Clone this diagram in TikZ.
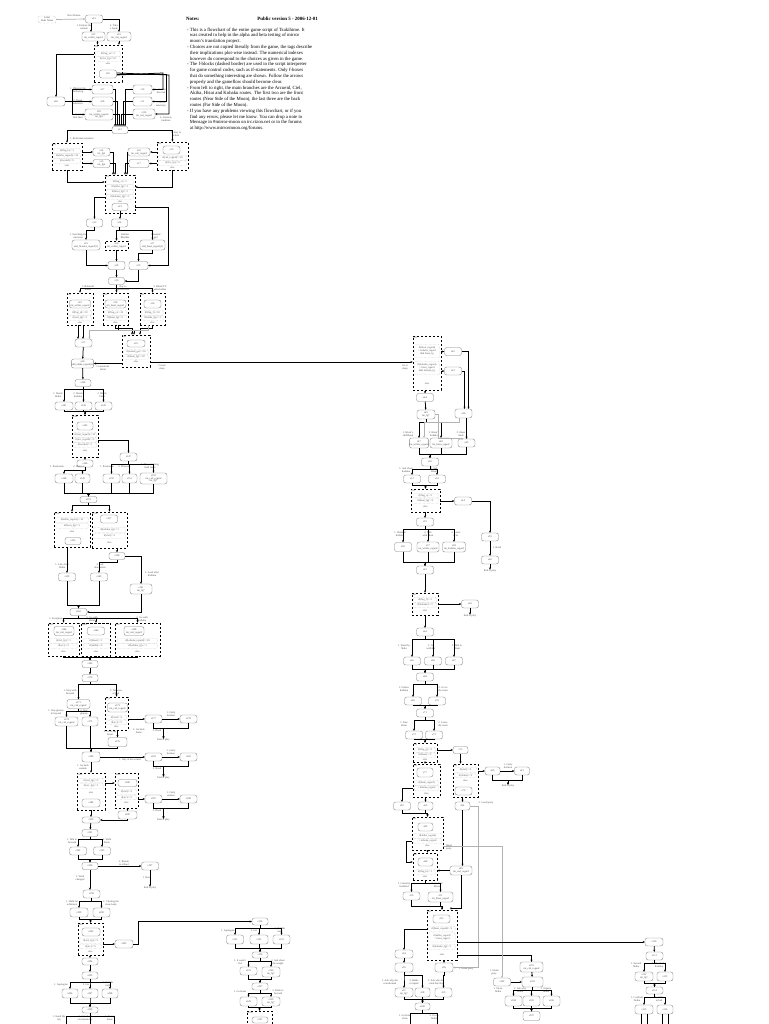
\documentclass[tikz,border=0pt]{standalone}
\usepackage{fontspec}
\setmainfont{Liberation Serif}
\usetikzlibrary{arrows.meta,calc}
\newcommand\fs{\fontsize{2.6}{2.9}\selectfont}
\tikzset{
 sn/.style={draw=black!50, line width=0.35pt, rounded corners=2.3pt, minimum width=17pt, minimum height=8pt, inner sep=0.3pt, font=\fs, text=black!70, align=center, fill=white},
 db/.style={draw=black, line width=0.75pt, dash pattern=on 2.4pt off 1.6pt},
 rw/.style={draw=black!40, line width=0.3pt, densely dotted, rounded corners=1pt, inner sep=0.2pt, font=\fs, text=black!65, align=center, minimum height=4.5pt},
 hd/.style={font=\fs, inner sep=0.6pt, text=black!70},
 lb/.style={font=\fs, inner sep=0pt, align=center, text=black!70},
 ed/.style={draw=black, line width=0.75pt, -{Stealth[length=2.2pt,width=2pt]}},
 ge/.style={draw=black!30, line width=0.7pt, -{Stealth[length=2.2pt,width=2pt]}},
}
\newcommand\Nd[5][]{\node[sn,#1] (#2) at (#3,#4) {#5};}
\newcommand\Lab[5][]{\node[lb,#1] (#2) at (#3,#4) {#5};}
\newcommand\Fb[6]{\node[db, minimum width=#4pt, minimum height=#5pt] (#1) at (#2,#3) {}; \node[hd, anchor=north west] (#1h) at (#1.north west) {#6};}
\newcommand\Rw[6][]{\node[rw, minimum width=#5pt, #1] (#2) at (#3,#4) {#6};}
\newcommand\Dn[3][]{\draw[ed,#1] (#2.south) -- ++(0,3) -| (#3.north);}
\newcommand\Up[3][]{\draw[ed,#1] (#2.south) |- ($(#3.north)+(0,-3)$) -- (#3.north);}
\begin{document}
\begin{tikzpicture}[x=1pt,y=-1pt]
\useasboundingbox[fill=white] (0,0) rectangle (768,1024);

% ---------------- notes
\node[anchor=west, inner sep=0, font=\fontsize{4.9}{5.8}\selectfont\bfseries] (ntitle) at (186,19) {Notes:};
\node[anchor=east, inner sep=0, font=\fontsize{4.9}{5.8}\selectfont\bfseries] (nver) at (318,19) {Public version 5 - 2006-12-01};
\node[anchor=north west, inner sep=0, align=left, font=\fontsize{4.75}{5.8}\selectfont] (notes) at (187,27.5) {%
- This is a flowchart of the entire game script of Tsukihime. It\\
\hphantom{- }was created to help in the alpha and beta testing of mirror\\
\hphantom{- }moon's translation project.\\
- Choices are not copied literally from the game, the tags describe\\
\hphantom{- }their implications plot-wise instead. The numerical indexes\\
\hphantom{- }however do correspond to the choices as given in the game.\\
- The f-blocks (dashed border) are used in the script interpreter\\
\hphantom{- }for game control codes, such as if-statements. Only f-boxes\\
\hphantom{- }that do something interesting are shown. Follow the arrows\\
\hphantom{- }properly and the gameflow should become clear.\\
- From left to right, the main branches are the Arcueid, Ciel,\\
\hphantom{- }Akiha, Hisui and Kohaku routes. The first two are the front\\
\hphantom{- }routes (Near Side of the Moon), the last three are the back\\
\hphantom{- }routes (Far Side of the Moon).\\
- If you have any problems viewing this flowchart, or if you\\
\hphantom{- }find any errors, please let me know. You can drop a note to\\
\hphantom{- }Mensage in \#mirror-moon on irc.rizon.net or in the forums\\
\hphantom{- }at http://www.mirrormoon.org/forums.};

% ---------------- top
\Nd[draw=black!40, densely dotted, minimum width=18pt, minimum height=7pt]{leg}{47}{19.5}{Label\\Node Name}
\Lab{lnext}{74}{16}{Next Station}
\Nd{s01}{94}{19}{s01}
\draw[ge] (leg.east) -- (s01.west);
\Lab{l02}{84}{27}{1. Explore the\\outside}
\Lab{l03}{114}{27}{2. Take\\a break}
\Nd[minimum width=23pt, minimum height=9pt]{s02}{93.5}{36.5}{s02\\tm\_wilder\_regard}
\Nd[minimum width=24pt, minimum height=9pt]{s03}{119}{36.5}{s03\\tm\_ciel\_regard}
\draw[ed] ([xshift=-3pt]s01.south) -- ([xshift=-3pt]s01.south |- s02.north);
\draw[ed] (s01.east) -| (s03.north);
\Fb{d04}{108}{63.5}{28}{37}{s04}
\Rw{r04a}{108}{54}{25}{if(flag\_a)>=1}
\Rw{r04b}{108}{59}{25}{if(ciel\_fg)>=10}
\Lab{r04c}{108}{64}{else}
\Nd{s05}{108}{74}{s05}
\draw[ed] ([xshift=4pt]s02.south) -- ([xshift=4pt]s02.south |- d04.north);
\draw[ed] (s03.south) -- (s03.south |- d04.north);
\Nd[minimum width=18pt, minimum height=9pt]{s06}{56}{101.5}{s06}
\draw[ed] (d04.west |- r04a) -| (s06.north);
\Nd[minimum width=21pt, minimum height=9pt]{s07}{102.5}{89.5}{s07}
\Nd[minimum width=21pt, minimum height=9pt]{s08}{102.5}{101.5}{s08}
\Nd[minimum width=28pt, minimum height=11pt]{s09}{99}{114.5}{s09\\tm\_wilder\_regard\\tm\_fg4}
\Lab{l07}{78}{90}{1. Rhetoric the\\following}
\Lab{l08}{78}{102.5}{2. Break\\salvation}
\Lab{l09}{78}{116}{3. Comfort\\him then}
\draw[ed] (s06.east) -- ++(7,0) |- (s07.west);
\draw[ed] (s06.east) -- (s08.west);
\draw[ed] (s06.east) -- ++(7,0) |- (s09.west);
\Nd[minimum width=19pt, minimum height=9pt]{s10}{142.5}{89.5}{s10}
\Nd[minimum width=19pt, minimum height=9pt]{s11}{142.5}{101.5}{s11}
\Nd[minimum width=22pt, minimum height=10pt]{s11b}{144}{114}{s11b\\tm\_ciel\_regard}
\Lab{l10}{161}{91}{4. Comfort\\the road}
\Lab{l11}{161}{104}{5. Go to\\sanctuary}
\Lab{l11b}{166}{119}{6. Listen to\\tradition}
\draw[ed] ([yshift=-1pt]s05.east) -- (163,73) |- (s10.east);
\draw[ed] (s05.east) -- (166,74) |- (s11.east);
\draw[ed] ([yshift=1pt]s05.east) -- (169,75) |- (s11b.east);
\Nd[minimum width=16pt, minimum height=7pt]{s12}{120}{130}{s12}
\draw[ed] (s07.east) -| ([xshift=-5pt]s12.north);
\draw[ed] (s08.east) -| ([xshift=-3pt]s12.north);
\draw[ed] (s09.east) -| ([xshift=-1pt]s12.north);
\draw[ed] (s10.west) -| ([xshift=5pt]s12.north);
\draw[ed] (s11.west) -| ([xshift=3pt]s12.north);
\draw[ed] (s11b.west) -| ([xshift=1pt]s12.north);

% ---------------- section 2
\Lab{l13}{82}{139}{1. Reluctant resistance}
\Lab{l18}{176}{134}{2. Stay in\\school}
\Fb{d13}{67}{156.5}{30}{27}{s13}
\Rw{r13a}{67}{151}{27}{if(flag\_b)>=1}
\Rw{r13b}{67}{156}{27}{if(akiha\_regard)>=10}
\Rw{r13c}{67}{161}{27}{if(sealed)>=5}
\Lab{r13d}{67}{166}{else}
\Nd{s14}{101.5}{152}{s14\\tm\_fg5}
\Nd{s15}{101.5}{163.5}{s15\\tm\_fg6}
\Nd[minimum width=22pt]{s16}{139}{152}{s16\\tm\_ciel\_regard}
\Nd[minimum width=20pt]{s17}{139}{163.5}{s17}
\Fb{d18}{172.5}{156}{31}{28}{s18}
\Nd{s19}{171.5}{150}{s19}
\Rw{r18a}{172.5}{158}{28}{if(ciel\_regard)>=10}
\Rw{r18b}{172.5}{163}{28}{if(ciel\_fg)>=5}
\Lab{r18c}{172.5}{167.5}{else}
\draw[ed] (s12.west) -| (d13.north);
\draw[ed] (s12.east) -| (d18.north);
\draw[ed] (d13.east |- s14) -- (s14.west);
\draw[ed] (d13.east |- s15) -- (s15.west);
\draw[ed] (d18.west |- s16) -- (s16.east);
\draw[ed] (d18.west |- s17) -- (s17.east);
\Fb{d21}{120}{194}{30}{38}{s21}
\Rw{r21a}{120}{182}{27}{if(flag\_c)>=1}
\Rw{r21b}{120}{187}{27}{if(akiha\_fg)>=1}
\Rw{r21c}{120}{192}{27}{if(hisui\_fg)>=1}
\Rw{r21d}{120}{197}{27}{if(kohaku\_fg)>=1}
\Lab{r21e}{120}{201.5}{else}
\Nd[minimum width=16pt, minimum height=7pt]{s22}{120}{207}{s22}
\draw[ed] (s14.east) -| ([xshift=-7pt]d21.north);
\draw[ed] (s15.east) -| ([xshift=-5pt]d21.north);
\draw[ed] (s16.west) -| ([xshift=7pt]d21.north);
\draw[ed] (s17.west) -| ([xshift=5pt]d21.north);
\draw[ed] (d13.south) |- (d21.west |- r21a);
\draw[ed] (d18.south) |- (d21.east |- r21b);
\Nd[minimum width=16pt]{s23}{94.5}{223}{s23}
\Nd[minimum width=16pt]{s24}{119.5}{223}{s24}
\draw[ed] (d21.west |- r21d) -| (s23.north);
\draw[ed] (s22.south) -- (s22.south |- s24.north);
\Lab{l25}{78}{236}{1. Searching for\\salvation}
\Lab{l26}{125}{236}{Submit\\Rhythm}
\Lab{l27}{156}{236}{Haunted\\girl}
\Nd[minimum width=28pt, minimum height=10pt]{s25}{86}{245}{s25\\add\_flonaka\_regard(1)}
\node[db, line width=0.6pt, minimum width=23pt, minimum height=9pt, font=\fs, align=center, text=black!70, inner sep=0.2pt] (d26) at (116.5,245.5) {s26\\tm\_wilder\_regard};
\Nd[minimum width=25pt, minimum height=10pt]{s27}{152.5}{245}{s27\\add\_hisui\_regard(1)}
\Dn{s23}{s25}
\Dn{s24}{d26}
\Dn{s24}{s27}
\Nd{s28}{116.5}{265.5}{s28}
\Nd[minimum width=19pt]{s29}{138.5}{265.5}{s29}
\draw[ed] (s25.south) |- (s28.west);
\draw[ed] (d26.south) -- (d26.south |- s28.north);
\Dn{s27}{s29}
\draw[ed] (d21.east |- s22) -- (168,207) |- (s29.east);
\Nd[minimum width=16pt, minimum height=7pt]{s30}{116.5}{281}{s30}
\draw[ed] (s28) -- (s30);
\draw[ed] (s29.south) |- (s30.east);

% ---------------- section 3
\Lab{l31}{88}{288}{1. Babaschi\\ahder}
\Lab{l33}{123}{288}{Ray to\\unconscious}
\Lab{l35}{160}{288}{3. Blood TV\\unlockables}
\Fb{d31}{80}{309}{26}{32}{s31}
\Nd[minimum width=21pt]{s32}{80}{304}{s32\\tm\_wilder\_regard}
\Rw{r31a}{80}{313}{23}{if(flag\_d)>=10}
\Rw{r31b}{80}{318}{23}{if(ciel\_fg)>=1}
\Lab{r31c}{80}{322.5}{else}
\Fb{d33}{115.5}{309}{25}{32}{s33}
\Nd[minimum width=21pt]{s34}{115.5}{304}{s34\\tm\_hisui\_regard}
\Rw{r33a}{115.5}{313}{22}{if(flag\_e)>=10}
\Rw{r33b}{115.5}{318}{22}{if(hisui\_fg)>=1}
\Lab{r33c}{115.5}{322.5}{else}
\Fb{d35}{152.5}{309}{25}{32}{s35}
\Nd{s36}{152.5}{304}{s36}
\Rw{r35a}{152.5}{313}{22}{if(flag\_f)>=10}
\Rw{r35b}{152.5}{318}{22}{if(akiha\_fg)>=1}
\Lab{r35c}{152.5}{322.5}{else}
\draw[ed] (s30.south) -- ++(0,4) -| (d31.north);
\draw[ed] (s30.south) -- (s30.south |- d33.north);
\draw[ed] (s30.south) -- ++(0,4) -| (d35.north);
\Nd{s37}{83.5}{343}{s37}
\Fb{d38}{136}{351}{28}{32}{s38}
\Nd[minimum width=18pt, minimum height=7pt]{s39}{136}{343.5}{s39}
\Rw{r38a}{136}{352}{25}{if(sealed\_ge)>=18}
\Rw{r38b}{136}{357}{25}{if(hisui\_fg)>=18}
\Lab{r38c}{136}{362}{else}
\draw[ed] ([xshift=-2pt]d31.south) -- ([xshift=-2pt]d31.south |- s37.north);
\draw[ed] ([xshift=3pt]d31.south) -- ([xshift=3pt]d31.south |- s37.north);
\draw[ed] (d33.south) -- ++(0,3) -| ([xshift=-4pt]d38.north);
\draw[ed] ([xshift=3pt]d33.south) -- ++(0,5) -| ([xshift=-2pt]d38.north);
\draw[ed] (d35.south) -- ++(0,3) -| ([xshift=4pt]d38.north);
\draw[ge] ([xshift=-4pt]d35.south) -- ++(0,5) -| ([xshift=6pt]s37.north);
\Nd[minimum width=21pt, minimum height=9pt]{s40}{82.5}{363.5}{s40\\add\_akiha\_regard(1)}
\draw[ed] (s37) -- (s40);
\draw[ed] (d38.west |- s40) -- (s40.east);
\Lab{l40}{103}{368}{Concentrate\\detail}
\Lab{l41}{162}{367}{Crowd\\sleep}
\Lab{l41b}{405}{367}{Go to\\sleep}

% ---------------- right column
\Fb{d41}{427}{363}{28}{54}{s41}
\Rw[minimum height=13pt]{r41a}{427}{351}{25}{if(hisui\_regard)\\> kohaku\_regard\\\&\& hisui\_fg}
\Rw[minimum height=13pt]{r41b}{427}{368}{25}{if(kohaku\_regard)\\> hisui\_regard\\\&\& kohaku\_fg}
\Lab{r41c}{427}{384}{else}
\draw[ed] (d38.east |- r38c) -- (d41.west |- r38c);
\Nd{s42}{453}{351.5}{s42}
\Nd{s43}{453}{371}{s43}
\draw[ed] (d41.east |- s42) -- (s42.west);
\draw[ed] (d41.east |- s43) -- (s43.west);
\Nd{s44}{425}{397.5}{s44}
\draw[ed] ([xshift=-2pt]d41.south) -- ([xshift=-2pt]d41.south |- s44.north);
\Nd[minimum width=18pt, minimum height=9pt]{s45}{426}{414.5}{s45\\tm\_fg7}
\draw[ed] (s44) -- (s45);
\Nd[minimum height=9pt]{s46}{463.5}{413.5}{s46}
\draw[ed] (s42.east) -| ([xshift=5pt]s46.north);
\draw[ed] (s43.east) -| ([xshift=1pt]s46.north);
\Lab{l47}{408}{434}{1. Hisui's\\childhood}
\Lab{l48}{434}{434}{2. Hisui's\\kohaku}
\Lab{l49}{461}{434}{3. Hisui\\leads}
\Nd[minimum width=18pt, minimum height=10pt]{s47}{419}{443}{s47\\tm\_wilder\_regard}
\Nd[minimum width=22pt, minimum height=10pt]{s48}{441}{443}{s48\\tm\_hisui\_regard}
\Nd{s49}{466.5}{443}{s49}
\Dn{s45}{s47}
\Dn{s45}{s48}
\draw[ge] (s45.east) -- ++(3,0) |- ([xshift=-3pt]s49.north) ;
\draw[ed] (s46.south -| s49.north) -- (s49.north);
\draw[ge] ([xshift=-4pt]s46.south) -- ++(0,4) -| ([xshift=5pt]s47.north);
\Nd{s50}{430}{462}{s50}
\Up{s47}{s50}
\Up{s48}{s50}
\Up{s49}{s50}
\Lab{l51}{406}{470}{1. Ask about\\Kohaku}
\Lab{l52}{434}{470}{2. Ask\\Hisui}
\Nd{s51}{412}{479}{s51}
\Nd{s52}{437}{479}{s52}
\Dn{s50}{s51}
\Dn{s50}{s52}
\Fb{d53}{425.5}{500.5}{29}{23}{s53}
\Rw{r53a}{425.5}{495.5}{26}{if(flag\_e)>=1}
\Rw{r53b}{425.5}{501}{26}{if(hisui\_fg)>=2}
\Lab{r53c}{425.5}{507}{else}
\Up{s51}{d53}
\Up{s52}{d53}
\Nd{s54}{463}{501}{s54}
\draw[ed] (d53.east |- s54) -- (s54.west);
\Nd{s55}{425}{522}{s55}
\draw[ed] (d53.south -| s55) -- (s55.north);
\Lab{l56}{400}{534}{1. Shout at\\Kohaku}
\Lab{l57}{428}{534}{2. Talk\\with Hisui}
\Lab{l58}{456}{534}{3. Leave\\it be}
\Nd[minimum height=9pt]{s56}{403}{547}{s56}
\Nd[minimum width=22pt, minimum height=10pt]{s57}{428}{547}{s57\\tm\_wilder\_regard}
\Nd[minimum width=23pt, minimum height=10pt]{s58}{454}{547}{s58\\tm\_kohaku\_regard}
\Dn{s55}{s56}
\Dn{s55}{s57}
\Dn{s55}{s58}
\Nd{s59}{490}{537}{s59}
\Nd{s60}{490}{560}{s60}
\draw[ed] (s54.east) -| (s59.north);
\draw[ed] (s59) -- (s60);
\Lab{l60}{497}{548}{1. Road}
\Lab{e60}{490}{571}{End of play}
\draw[ed] (s60) -- (e60);
\Nd{s61}{425}{570}{s61}
\Up{s56}{s61}
\Up{s57}{s61}
\Up{s58}{s61}
\Fb{d62}{425}{604}{26}{22}{s62}
\Rw{r62a}{425}{600}{23}{if(flag\_f)>=1}
\Rw{r62b}{425}{605}{23}{if(kohaku)>=3}
\Lab{r62c}{425}{611}{else}
\draw[ed] (s61.south) -- (s61.south |- d62.north);
\Nd{s63}{470}{604}{s63}
\draw[ed] (d62.east |- s63) -- (s63.west);
\Lab{e63}{470}{616}{End of play}
\draw[ed] (s63) -- (e63);
\Nd{s64}{425}{632}{s64}
\draw[ed] (d62.south -| s64) -- (s64.north);
\Lab{l65}{404}{647}{1. Stand by\\Shiki}
\Lab{l66}{431}{647}{2. Go\\with her}
\Lab{l67}{457}{647}{3. Talk to\\Hisui}
\Nd{s65}{412}{661}{s65}
\Nd{s66}{433}{661}{s66}
\Nd{s67}{454}{661}{s67}
\Dn{s64}{s65}
\Dn{s64}{s66}
\Dn{s64}{s67}
\Nd{s68}{425}{677}{s68}
\Up{s65}{s68}
\Up{s66}{s68}
\Up{s67}{s68}
\Lab{l69}{404}{689}{1. Follow\\Kohaku}
\Lab{l70}{443}{689}{2. Go to\\the room}
\Nd{s69}{413}{701}{s69}
\Nd{s70}{437}{701}{s70}
\Dn{s68}{s69}
\Dn{s68}{s70}
\Nd{s71}{425}{713}{s71}
\Up{s69}{s71}
\Up{s70}{s71}
\Lab{l72}{404}{724}{1. Kiss\\Hisui}
\Lab{l73}{443}{724}{2. Leave\\the room}
\Nd{s72}{414}{735}{s72}
\Nd{s73}{434}{735}{s73}
\Dn{s71}{s72}
\Dn{s71}{s73}
\Fb{d74}{425}{752.5}{24}{19}{s74}
\Rw{r74a}{425}{750}{21}{if(flag\_g)>=5}
\Rw{r74b}{425}{755}{21}{if(hisui)>=3}
\Lab{r74c}{425}{759.5}{else}
\Up{s72}{d74}
\Up{s73}{d74}
\Nd[minimum width=15pt, minimum height=7pt]{s75}{460.5}{750}{s75}
\draw[ed] (d74.east |- s75) -- (s75.west);
\Fb{d76}{426.5}{780.5}{27}{33}{s76}
\Nd[minimum width=16pt, minimum height=9pt]{s77}{425}{772.5}{s77}
\Rw{r76a}{426.5}{783}{24}{if(hisui\_regard)}
\Rw{r76b}{426.5}{788}{24}{> kohaku\_regard}
\Lab{r76c}{426.5}{793.5}{else}
\draw[ed] (d74.south) -- (d74.south |- d76.north);
\Fb{d78}{465.5}{780.5}{25}{33}{s78}
\Rw{r78a}{465.5}{770}{22}{if(ciel)>=5}
\Rw{r78b}{465.5}{775.5}{22}{if(akiha)>=2}
\Lab{r78c}{465.5}{781}{else}
\Nd{s79}{463.5}{791}{s79}
\draw[ed] (s75.south) -- (s75.south |- d78.north);
\Nd[minimum width=15pt]{s80}{492.5}{771}{s80}
\Nd[minimum width=15pt]{s81}{522}{771}{s81}
\draw[ed] (d78.east |- s80) -- (s80.west);
\draw[ed] (s80) -- (s81);
\Lab{l81}{508}{766}{1. Curly\\Sermon}
\Lab{e81}{508}{786}{End of play}
\draw[ed] (s80.south) -- ++(0,5) -| (e81.north);
\draw[ed] (s81.south) -- ++(0,5) -| (e81.north);
\Nd{s82}{402}{806}{s82}
\Nd[minimum width=15pt]{s83}{425.5}{806}{s83}
\Nd[minimum width=15pt]{s84}{462.5}{806}{s84}
\draw[ed] (d76.west |- r76b) -| (s82.north);
\draw[ed] (d76.south -| s83) -- (s83.north);
\draw[ed] (d78.south -| s84) -- (s84.north);
\Lab{l84}{486}{803}{2. Good party}
\Fb{d85}{427.5}{833.5}{31}{33}{s85}
\Nd[minimum width=15pt]{s86}{425.5}{827}{s86}
\Rw{r85a}{427.5}{836}{28}{if(akiha\_regard)}
\Rw{r85b}{427.5}{841}{28}{> kohaku\_regard}
\Lab{r85c}{427.5}{846}{else}
\Up{s82}{d85}
\Up{s83}{d85}
\Lab{l85}{449}{847}{Stand\\party}
\Fb{d87}{425}{866.5}{24}{27}{s87}
\Nd[minimum width=15pt]{s88}{425.5}{862}{s88}
\Rw{r87a}{425}{872}{21}{if(flag\_h)>=1}
\Lab{r87b}{425}{877}{else}
\draw[ed] (d85.south) -- (d85.south |- d87.north);
\draw[ed] (d85.west |- r85b) -- ++(-5,0) |- (d87.west |- s88);
\Nd[minimum width=22pt, minimum height=9pt]{s89}{461}{870.5}{s89\\tm\_ciel\_regard}
\draw[ed] (s84.south) -- (s84.south |- s89.north);
\draw[ed] (s89.west) -- (d87.east |- s89);
\Lab{l90}{404}{885}{1. Curiosity\\Satisfied}
\Lab{l91}{437}{885}{2. Go find\\Miwa}
\Nd{s90}{411.5}{896}{s90}
\Nd[minimum width=25pt, minimum height=10pt]{s91}{440.5}{897}{s91\\tm\_hisui\_regard}
\Dn{d87}{s90}
\Dn{d87}{s91}
\Fb{d92}{442}{935}{30}{50}{s92}
\Nd{s93}{441.5}{919}{s93}
\Rw{r92a}{442}{929}{27}{if(hisui\_regard)>=5}
\Rw[minimum height=9pt]{r92b}{442}{937.5}{27}{if(akiha\_regard)\\> hisui\_regard}
\Rw{r92c}{442}{947}{27}{if(kohaku\_fg)>=1}
\Lab{r92d}{442}{955}{else}
\Up{s90}{d92}
\Up{s91}{d92}
\draw[ed] (s89.south) -- ++(0,33) -| ([xshift=9pt]d92.north);
\Nd[minimum width=18pt]{s94}{404}{954}{s94}
\Nd[minimum width=18pt, minimum height=9pt]{s95}{404}{967.5}{s95}
\Nd[minimum width=18pt, minimum height=9pt]{s96}{444}{967.5}{s96}
\draw[ed] (d92.west |- r92a) -| (s94.north);
\draw[ed] (s94) -- (s95);
\draw[ed] (d92.south -| s96) -- (s96.north);
\Lab{l96}{466}{969}{1. Stand party}
\draw[ge] (s84.east) -- (478,806) |- (s96.east);
\Lab{l97}{390}{982}{1. Ask why she\\transformed}
\Lab{l98}{414}{982}{2. Bathe\\in liquid}
\Lab{l99}{436}{982}{3. Ask why she\\cried that day}
\Nd[minimum width=18pt, minimum height=9pt]{s97}{404}{992.5}{s97\\tm\_fg7}
\Nd[minimum width=15pt, minimum height=9pt]{s98}{422.5}{992.5}{s98}
\Nd[minimum height=9pt]{s99}{443.5}{992.5}{s99}
\Dn{s95}{s97}
\Dn{s95}{s98}
\Dn{s96}{s99}
\Nd[minimum width=15pt, minimum height=7pt]{s100}{422.5}{1006.5}{s100}
\Up{s97}{s100}
\Up{s98}{s100}
\Up{s99}{s100}
\Lab{l100a}{405}{1017}{1. Go home\\alone}
\Lab{l100b}{434}{1017}{2. Go to\\Akiha}
\coordinate (x100a) at (410,1028);
\coordinate (x100b) at (437,1028);
\draw[ed] (s100.south) -- ++(0,3) -| (x100a);
\draw[ed] (s100.south) -- ++(0,3) -| (x100b);

% right sub branch
\Nd[minimum width=23pt, minimum height=10pt]{s101}{531.5}{967}{s101\\tm\_ciel\_regard}
\draw[ed] (d92.east |- r92d) -| (s101.north);
\Nd{s102}{502}{982}{s102}
\Nd[minimum width=21pt, minimum height=10pt]{s103}{532.5}{982}{s103}
\draw[ge] (d85.east |- r85c) -| (s102.north);
\Lab{l102}{494}{972}{1. Stand\\party}
\draw[ed] (s101) -- (s103);
\draw[ed] (s102.east) -- (s103.west);
\Lab{l104}{498}{990}{1. Sit on\\Akiha}
\Lab{l105}{520}{990}{2. Ask why\\Akiha}
\Lab{l106}{546}{990}{3. Inquire\\Akiha}
\Nd[minimum height=10pt]{s104}{513.5}{1001}{s104}
\Nd[minimum height=10pt]{s105}{531.5}{1001}{s105}
\Nd[minimum height=10pt]{s106}{551.5}{1001}{s106}
\Dn{s103}{s104}
\Dn{s103}{s105}
\Dn{s103}{s106}
\Nd[minimum height=9pt]{s107}{531.5}{1016}{s107}
\Up{s104}{s107}
\Up{s105}{s107}
\Up{s106}{s107}

% far right
\Nd[minimum width=18pt]{s110}{654}{942}{s110}
\draw[ed] (d92.east |- s110) -- (s110.west);
\Nd{s111}{654.5}{956}{s111}
\draw[ed] (s110) -- (s111);
\Lab{l112}{636}{965}{1. Second\\Akiha}
\Lab{l113}{659}{965}{2. Wonderful\\Kohaku}
\Nd[minimum width=18pt, minimum height=9pt]{s112}{644}{976.5}{s112\\tm\_fg7}
\Nd[minimum width=16pt, minimum height=9pt]{s113}{665}{976.5}{s113}
\Dn{s111}{s112}
\Dn{s111}{s113}
\Nd[minimum height=7pt]{s114}{654.5}{990.5}{s114}
\Up{s112}{s114}
\Up{s113}{s114}
\Lab{l115}{637}{999}{1. Confront\\Akiha}
\Lab{l116}{659}{999}{2. Hide\\in bed}
\Nd[minimum width=18pt, minimum height=9pt]{s115}{644}{1009.5}{s115}
\Nd[minimum width=16pt, minimum height=9pt]{s116}{665}{1009.5}{s116}
\Dn{s114}{s115}
\Dn{s114}{s116}
\coordinate (x115a) at (641,1028);
\coordinate (x115b) at (647,1028);
\coordinate (x116a) at (662,1028);
\coordinate (x116b) at (668,1028);
\draw[ed] ([xshift=-3pt]s115.south) -- (x115a);
\draw[ed] ([xshift=3pt]s115.south) -- (x115b);
\draw[ed] ([xshift=-3pt]s116.south) -- (x116a);
\draw[ed] ([xshift=3pt]s116.south) -- (x116b);

% ---------------- middle bottom
\Nd[minimum width=16pt, minimum height=7pt]{s120}{260}{921.5}{s120}
\Lab{l121}{228}{931}{1. Apologize}
\Lab{l122}{254}{931}{2. Lie}
\Lab{l123}{280}{930}{3. Tell the\\truth}
\Nd[minimum height=9pt]{s121}{235}{939.5}{s121}
\Nd[minimum width=18pt, minimum height=9pt]{s122}{259}{939.5}{s122}
\Nd[minimum height=9pt]{s123}{281.5}{939.5}{s123}
\Dn{s120}{s121}
\Dn{s120}{s122}
\Dn{s120}{s123}
\Nd[minimum width=16pt, minimum height=6pt]{s124}{260}{955}{s124}
\Up{s121}{s124}
\Up{s122}{s124}
\Up{s123}{s124}
\Lab{l125}{240}{962}{1. It wasn't\\Ciel}
\Lab{l126}{278}{962}{2. Ask about\\the weight}
\Nd{s125}{248.5}{971}{s125}
\Nd[minimum width=18pt, minimum height=10pt]{s126}{271}{972}{s126\\tm\_fg7}
\Dn{s124}{s125}
\Dn{s124}{s126}
\Nd[minimum width=16pt, minimum height=7pt]{s127}{260}{986.5}{s127}
\Up{s125}{s127}
\Up{s126}{s127}
\Lab{l128}{240}{992}{1. Go home}
\Lab{l129}{278}{992}{2. Rush to\\Arcueid}
\Nd[minimum height=9pt]{s128}{248.5}{1001.5}{s128}
\Nd[minimum width=18pt, minimum height=9pt]{s129}{271}{1001.5}{s129\\tm\_fg7}
\Dn{s127}{s128}
\Dn{s127}{s129}
\Fb{d130}{259.5}{1021}{25}{20}{s130}
\Nd[minimum width=16pt, minimum height=6pt]{s131}{260}{1020}{s131}
\Up{s128}{d130}
\Up{s129}{d130}

% ---------------- left lower
\Nd[minimum width=16pt, minimum height=7pt]{s140}{83}{383}{s140}
\draw[ed] (s40) -- (s140);
\Lab{l141}{58}{395}{1. Shock\\Akiha}
\Lab{l142}{78}{395}{2. Shock\\Kohaku}
\Lab{l143}{102}{395}{3. Shock\\Yumi}
\Nd[minimum width=18pt]{s141}{64}{406}{s141}
\Nd{s142}{83.5}{406}{s142}
\Nd{s143}{103.5}{406}{s143}
\Dn{s140}{s141}
\Dn{s140}{s142}
\Dn{s140}{s143}
\Fb{d144}{85}{436}{26}{42}{s144}
\Nd[minimum width=16pt]{s145}{85}{426}{s145}
\Rw{r144a}{85}{435}{23}{if(ciel\_regard)>=10}
\Rw{r144b}{85}{440}{23}{if(arc\_regard)>=5}
\Rw{r144c}{85}{445}{23}{if(sealed)>=1}
\Lab{r144d}{85}{451}{else}
\Up{s141}{d144}
\Up{s142}{d144}
\Up{s143}{d144}
\Nd[minimum width=16pt, minimum height=7pt]{s146}{85}{463.5}{s146}
\draw[ed] (d144.south) -- (s146.north);
\Nd{s147}{128.5}{457}{s147}
\draw[ed] (d144.east |- r144b) -| (s147.north);
\Lab{l148}{57}{467}{1. Passionate}
\Lab{l149}{79}{467}{2. Platonic}
\Lab{l150}{107}{467}{1. Passionate}
\Lab{l151}{124}{467}{2. Platonic}
\Lab{l152}{150}{466}{3. The remaining\\shall leave}
\Nd[minimum width=18pt, minimum height=9pt]{s148}{64}{478.5}{s148}
\Nd[minimum width=15pt, minimum height=9pt]{s149}{82.5}{478.5}{s149}
\Nd[minimum height=9pt]{s150}{111.5}{478.5}{s150}
\Nd[minimum width=15pt, minimum height=9pt]{s151}{129.5}{478.5}{s151}
\Nd[minimum width=27pt, minimum height=11pt]{s152}{153.5}{478.5}{s152\\tm\_ciel\_regard\\tm\_fg7}
\Dn{s146}{s148}
\Dn{s146}{s149}
\Dn{s147}{s150}
\Dn{s147}{s151}
\Dn{s147}{s152}
\Nd[minimum height=6pt]{s153}{88.5}{499.5}{s153}
\Up{s148}{s153}
\Up{s149}{s153}
\Up{s150}{s153}
\Up{s151}{s153}
\Up{s152}{s153}
\Fb{d154}{72}{529.5}{36}{35}{s154}
\Rw{r154a}{72}{520}{33}{if(akiha\_regard)>=10}
\Rw{r154b}{72}{526}{33}{if(hisui\_fg)>=1}
\Lab{r154c}{72}{532}{else}
\Nd[minimum width=16pt, minimum height=7pt]{s155}{73}{541}{s155}
\Fb{d156}{109.5}{530}{35}{36}{s156}
\Nd{s157}{109}{519}{s157}
\Rw{r156a}{109.5}{530}{32}{if(kohaku\_fg)>=1}
\Rw{r156b}{109.5}{536}{32}{if(ciel)>=3}
\Lab{r156c}{109.5}{543}{else}
\Dn{s153}{d154}
\Dn{s153}{d156}
\Nd[minimum width=16pt, minimum height=7pt]{s158}{117}{556}{s158}
\draw[ed] (d156.south -| s158) -- (s158.north);
\Lab{l159}{62}{566}{1. Lab, class\\Akiha}
\Lab{l160}{100}{566}{2. Lab\\downstairs}
\Nd{s159}{67}{577}{s159}
\Nd{s160}{99}{577}{s160}
\draw[ed] (d154.south -| s159) -- (s159.north);
\Dn{s158}{s160}
\Nd[minimum width=22pt, minimum height=10pt]{s161}{141}{589}{s161\\tm\_fg7}
\draw[ed] (s158.east) -| (s161.north);
\Lab{l161}{152}{574}{2. Look after\\Kohaku}
\Nd[minimum height=7pt]{s162}{78.5}{612}{s162}
\Up{s159}{s162}
\Up{s160}{s162}
\draw[ed] (s161.south) |- (s162.east);
\Lab{l163}{56}{619}{1. Exception}
\Lab{l165}{92}{619}{2. Go with\\Hisui}
\Lab{l167}{142}{619}{3. Go with\\Kohaku}
\Fb{d163}{63.5}{639.5}{31}{33}{s163}
\Nd[minimum width=20pt, minimum height=9pt]{s164}{64}{631}{s164\\tm\_ciel\_regard}
\Rw{r163a}{63.5}{641}{28}{if(ciel\_fg)>=1}
\Rw{r163b}{63.5}{646}{28}{if(arc)>=2}
\Lab{r163c}{63.5}{651.5}{else}
\Fb{d165}{96}{639.5}{29}{33}{s165}
\Nd{s166}{96}{631}{s166}
\Rw{r165a}{96}{641}{26}{if(hisui)>=1}
\Rw{r165b}{96}{646}{26}{if(akiha)>=2}
\Lab{r165c}{96}{651.5}{else}
\Fb{d167}{137.5}{639.5}{45}{33}{s167}
\Nd[minimum width=20pt, minimum height=9pt]{s168}{134}{631}{s168\\tm\_ciel\_regard}
\Rw{r167a}{137.5}{641}{40}{if(kohaku\_regard)>=10}
\Rw{r167b}{137.5}{646}{40}{if(kohaku\_fg)>=1}
\Lab{r167c}{137.5}{651.5}{else}
\Dn{s162}{d163}
\Dn{s162}{d165}
\Dn{s162}{d167}
\Nd[minimum width=16pt, minimum height=7pt]{s169}{90}{664}{s169}
\Up{d163}{s169}
\Up{d165}{s169}
\Up{d167}{s169}
\Nd[minimum width=16pt, minimum height=7pt]{s170}{90}{678}{s170}
\draw[ed] (s169) -- (s170);
\Lab{l171}{70}{692}{1. Stay with\\Arcueid}
\Lab{l172}{116}{692}{2. Nervous\\school}
\Nd[minimum width=23pt, minimum height=9pt]{s171}{78.5}{704}{s171\\tm\_ciel\_regard}
\Fb{d172}{116.5}{713.5}{23}{33}{s172}
\Nd[minimum width=20pt, minimum height=9pt]{s173}{117.5}{707.5}{s173\\tm\_ciel\_regard}
\Rw{r172a}{116.5}{717.5}{20}{if(ciel)>=5}
\Rw{r172b}{116.5}{722.5}{20}{if(arc)>=3}
\Lab{r172c}{116.5}{727}{else}
\Dn{s170}{s171}
\Dn{s170}{d172}
\Lab{l174}{56}{712}{1. Stay glasses\\in beyond}
\Lab{l175}{84}{712}{2. Stay\\glasses}
\Nd[minimum width=23pt, minimum height=9pt]{s174}{66.5}{721.5}{s174\\tm\_ciel\_regard}
\Nd[minimum width=16pt, minimum height=9pt]{s175}{90}{721.5}{s175}
\Dn{s171}{s174}
\Dn{s171}{s175}
\Lab{l176}{110}{733}{3. Go to the\\forest}
\Lab{l176b}{139}{731}{2. Go back\\home}
\Nd[minimum width=19pt, minimum height=9pt]{s176}{117.5}{742}{s176}
\draw[ed] (d172.south -| s176) -- (s176.north);
\Nd{s177}{153.5}{719}{s177}
\Nd{s178}{188.5}{719}{s178}
\draw[ed] (d172.east |- s177) -- (s177.west);
\draw[ed] (s177) -- (s178);
\Lab{l178}{171}{714}{1. Curly\\Sermon}
\Lab{l179}{157}{731}{2. Road}
\Lab{eop1}{163.5}{740}{End of play}
\draw[ed] (s177.south) -- ++(0,5) -| (eop1.north);
\draw[ed] (s178.south) -- ++(0,5) -| (eop1.north);
\Nd[minimum width=18pt, minimum height=10pt]{s180}{91}{757}{s180}
\Up{s174}{s180}
\Up{s175}{s180}
\Up{s176}{s180}
\Nd{s181}{153.5}{757}{s181}
\Nd{s182}{188.5}{757}{s182}
\draw[ed] (s180.east) -- (s181.west);
\draw[ed] (s181) -- (s182);
\Lab{l181}{130}{760}{1. Stay at the wound}
\Lab{l182}{171}{752}{1. Curly\\Sermon}
\Lab{l182b}{157}{769}{2. Road}
\Lab{eop2}{163.5}{778}{End of play}
\draw[ed] (s181.south) -- ++(0,5) -| (eop2.north);
\draw[ed] (s182.south) -- ++(0,5) -| (eop2.north);
\Lab{l183}{83}{767}{1. Go back\\outside}
\Fb{d183}{91}{791.5}{28}{37}{s183}
\Rw{r183a}{91}{780.5}{25}{if(ciel\_fg)>=5}
\Rw{r183b}{91}{786}{25}{if(arc\_fg)>=1}
\Lab{r183c}{91}{792.5}{else}
\Nd[minimum width=18pt]{s184}{91}{803}{s184}
\draw[ed] (s180.south) -- (d183.north);
\Fb{d185}{126.5}{790.5}{23}{35}{s185}
\Nd[minimum width=19pt, minimum height=7pt]{s186}{127.5}{783}{s186}
\Rw{r185a}{126.5}{792}{20}{if(ciel)>=5}
\Rw{r185b}{126.5}{797.5}{20}{if(arc)>=2}
\Lab{r185c}{126.5}{803}{else}
\draw[ed] (d183.east |- s186) -- (d185.west |- s186);
\Nd{s187}{153.5}{799}{s187}
\Nd{s188}{188.5}{799}{s188}
\draw[ed] (d185.east |- s187) -- (s187.west);
\draw[ed] (s187) -- (s188);
\Lab{l188}{171}{794}{1. Curly\\sermon}
\Lab{l188b}{157}{811}{2. Road}
\Lab{eop3}{163.5}{820}{End of play}
\draw[ed] (s187.south) -- ++(0,5) -| (eop3.north);
\draw[ed] (s188.south) -- ++(0,5) -| (eop3.north);
\Nd[minimum width=19pt]{s189}{127.5}{815}{s189}
\draw[ed] (d185.south -| s189) -- (s189.north);
\Nd[minimum width=18pt, minimum height=6pt]{s190}{91}{820}{s190}
\draw[ed] (d183.south) -- (s190.north);
\draw[ed] (s189.south) |- (s190.east);
\Nd[minimum width=16pt, minimum height=7pt]{s191}{90}{833}{s191}
\draw[ed] (s190) -- (s191);
\Lab{l192}{72}{841}{1. Talk to\\Arcueid}
\Lab{l193}{107}{841}{2. Walk\\home}
\Nd{s192}{78}{851}{s192}
\Nd{s193}{102}{851}{s193}
\Dn{s191}{s192}
\Dn{s191}{s193}
\Nd[minimum width=16pt, minimum height=7pt]{s196}{90}{866}{s196}
\Up{s192}{s196}
\Up{s193}{s196}
\Nd{s197}{150}{866}{s197}
\draw[ed] (s196.east) -- (s197.west);
\Lab{l197}{124}{863}{2. Return\\to school}
\Lab{l197b}{147}{878}{1. Road}
\Lab{eop4}{150}{888}{End of play}
\draw[ed] (s197.south) -- (eop4.north);
\Lab{l198}{80}{878}{1. Walk\\changed}
\Nd{s198}{91.5}{894}{s198}
\draw[ed] (s196.south) -- (s196.south |- s198.north);
\Lab{l199}{72}{903}{1. Walk for\\a distance}
\Lab{l200}{111}{903}{2. Clearing the\\stone body}
\Nd[minimum width=18pt, minimum height=9pt]{s199}{79}{912.5}{s199}
\Nd[minimum height=9pt]{s200}{101.5}{912.5}{s200}
\Dn{s198}{s199}
\Dn{s198}{s200}
\Fb{d201}{90.5}{939}{25}{32}{s201}
\Nd[minimum width=18pt]{s202}{91}{932}{s202}
\Rw{r201a}{90.5}{941}{22}{if(ciel\_fg)>=3}
\Rw{r201b}{90.5}{946.5}{22}{if(arc)>=5}
\Lab{r201c}{90.5}{951.5}{else}
\Up{s199}{d201}
\Up{s200}{d201}
\Nd[minimum width=18pt]{s203}{124}{944}{s203}
\draw[ed] (d201.east |- s203) -- (s203.west);
\draw[ed] (s203.east) -- ++(5,0) |- (s120.west);
\Nd[minimum width=16pt, minimum height=7pt]{s204}{90}{961.5}{s204}
\draw[ed] (d201.south -| s204) -- (s204.north);
\Nd[minimum width=16pt, minimum height=7pt]{s205}{90}{975.5}{s205}
\draw[ed] (s204) -- (s205);
\Lab{l206}{61}{985}{1. Apologize}
\Lab{l207}{86}{985}{2. Lie}
\Lab{l208}{108}{984}{3. Tell the\\truth}
\Nd[minimum width=16pt, minimum height=9pt]{s206}{70}{993.5}{s206}
\Nd[minimum width=16pt, minimum height=9pt]{s207}{90}{993.5}{s207}
\Nd[minimum width=16pt, minimum height=9pt]{s208}{110}{993.5}{s208}
\Dn{s205}{s206}
\Dn{s205}{s207}
\Dn{s205}{s208}
\Nd[minimum width=16pt, minimum height=6pt]{s209}{90}{1010}{s209}
\Up{s206}{s209}
\Up{s207}{s209}
\Up{s208}{s209}
\Lab{l210}{59}{1018}{1. Insult the\\city}
\Lab{l211}{85}{1018}{2. Ask about\\circumstances}
\Lab{l212}{110}{1018}{3. Return\\home}
\coordinate (x209a) at (66,1028);
\coordinate (x209b) at (90,1028);
\coordinate (x209c) at (114,1028);
\draw[ed] (s209.south) -- ++(0,3) -| (x209a);
\draw[ed] (s209.south) -- (x209b);
\draw[ed] (s209.south) -- ++(0,3) -| (x209c);
\end{tikzpicture}
\end{document}
